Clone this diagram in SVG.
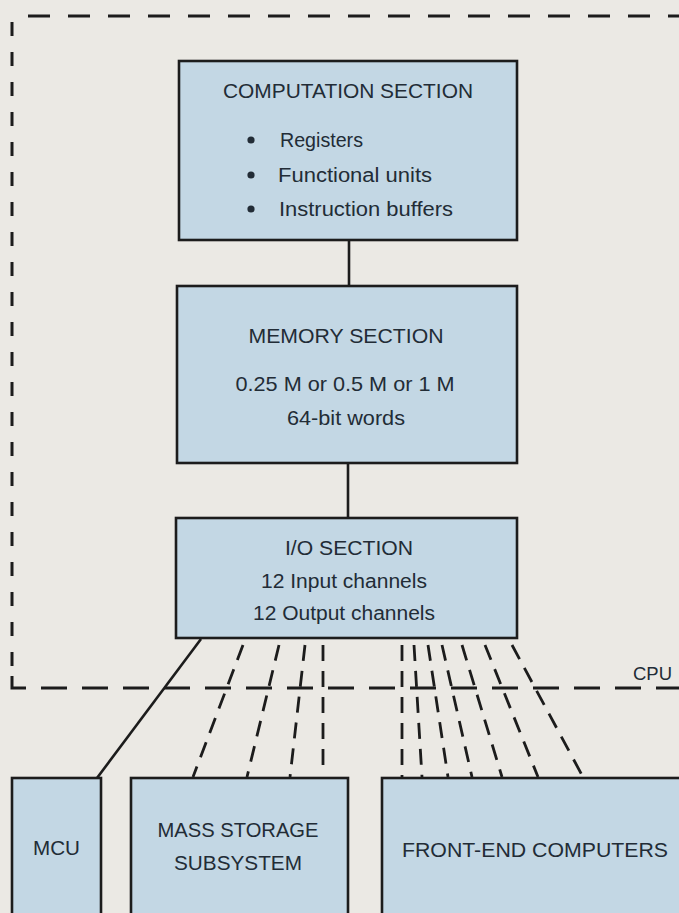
<svg xmlns="http://www.w3.org/2000/svg" width="679" height="913" viewBox="0 0 679 913">
<style>
.box{fill:#c3d7e4;stroke:#1c1c1c;stroke-width:2.6}
.t{font-family:"Liberation Sans",Arial,sans-serif;fill:#222c36;text-anchor:middle}
.l{font-family:"Liberation Sans",Arial,sans-serif;fill:#222c36}
.solid{stroke:#1c1c1c;stroke-width:2.6;fill:none}
.dash{stroke:#1c1c1c;stroke-width:2.8;fill:none;stroke-dasharray:16 10}
.bound{stroke:#1c1c1c;stroke-width:3;fill:none}
</style>
<rect x="0" y="0" width="679" height="913" fill="#ebe9e4"/>
<g id="cpu-boundary">
<path class="bound" d="M 690 16 H 12" stroke-dasharray="22 18"/>
<path class="bound" d="M 12 22 V 680" stroke-dasharray="14 16"/>
<path class="bound" d="M 12 676 V 688 H 700" stroke-dasharray="26 15"/>
<text class="l" x="633" y="680" font-size="18" textLength="39" lengthAdjust="spacingAndGlyphs">CPU</text>
</g>
<g id="connectors">
<line class="solid" x1="349" y1="240" x2="349" y2="286"/>
<line class="solid" x1="348" y1="463" x2="348" y2="518"/>
<line class="solid" x1="201" y1="639" x2="97" y2="778"/>
<line class="dash" x1="243" y1="645" x2="193" y2="777"/>
<line class="dash" x1="279" y1="645" x2="247" y2="777"/>
<line class="dash" x1="305" y1="645" x2="290" y2="777"/>
<line class="dash" x1="323" y1="645" x2="323" y2="770"/>
<line class="dash" x1="402" y1="645" x2="402" y2="777"/>
<line class="dash" x1="414" y1="645" x2="422" y2="777"/>
<line class="dash" x1="428" y1="645" x2="448" y2="777"/>
<line class="dash" x1="442" y1="645" x2="472" y2="777"/>
<line class="dash" x1="462" y1="645" x2="502" y2="777"/>
<line class="dash" x1="485" y1="645" x2="538" y2="777"/>
<line class="dash" x1="512" y1="645" x2="583" y2="777"/>
</g>
<g id="computation">
<rect class="box" x="179" y="61" width="338" height="179"/>
<text class="t" x="348" y="98" font-size="20.5" textLength="250" lengthAdjust="spacingAndGlyphs">COMPUTATION SECTION</text>
<circle cx="251" cy="140" r="3.6" fill="#222c36"/>
<circle cx="251" cy="175" r="3.6" fill="#222c36"/>
<circle cx="251" cy="209" r="3.6" fill="#222c36"/>
<text class="l" x="280" y="147" font-size="20" textLength="83" lengthAdjust="spacingAndGlyphs">Registers</text>
<text class="l" x="278" y="182" font-size="20" textLength="154" lengthAdjust="spacingAndGlyphs">Functional units</text>
<text class="l" x="279" y="216" font-size="20" textLength="174" lengthAdjust="spacingAndGlyphs">Instruction buffers</text>
</g>
<g id="memory">
<rect class="box" x="177" y="286" width="340" height="177"/>
<text class="t" x="346" y="343" font-size="21" textLength="195" lengthAdjust="spacingAndGlyphs">MEMORY SECTION</text>
<text class="t" x="345" y="391" font-size="21" textLength="219" lengthAdjust="spacingAndGlyphs">0.25 M or 0.5 M or 1 M</text>
<text class="t" x="346" y="425" font-size="20" textLength="118" lengthAdjust="spacingAndGlyphs">64-bit words</text>
</g>
<g id="io">
<rect class="box" x="176" y="518" width="341" height="120"/>
<text class="t" x="349" y="555" font-size="19.5" textLength="128" lengthAdjust="spacingAndGlyphs">I/O SECTION</text>
<text class="t" x="344" y="588" font-size="19.5" textLength="166" lengthAdjust="spacingAndGlyphs">12 Input channels</text>
<text class="t" x="344" y="620" font-size="19.5" textLength="182" lengthAdjust="spacingAndGlyphs">12 Output channels</text>
</g>
<g id="mcu">
<rect class="box" x="12" y="778" width="89" height="145"/>
<text class="t" x="56.5" y="855" font-size="19.5" textLength="47" lengthAdjust="spacingAndGlyphs">MCU</text>
</g>
<g id="mass-storage">
<rect class="box" x="131" y="778" width="217" height="145"/>
<text class="t" x="238" y="837" font-size="19.5" textLength="161" lengthAdjust="spacingAndGlyphs">MASS STORAGE</text>
<text class="t" x="238" y="870" font-size="19.5" textLength="128" lengthAdjust="spacingAndGlyphs">SUBSYSTEM</text>
</g>
<g id="front-end">
<rect class="box" x="382" y="778" width="320" height="145"/>
<text class="t" x="535" y="857" font-size="19.5" textLength="266" lengthAdjust="spacingAndGlyphs">FRONT-END COMPUTERS</text>
</g>
</svg>
